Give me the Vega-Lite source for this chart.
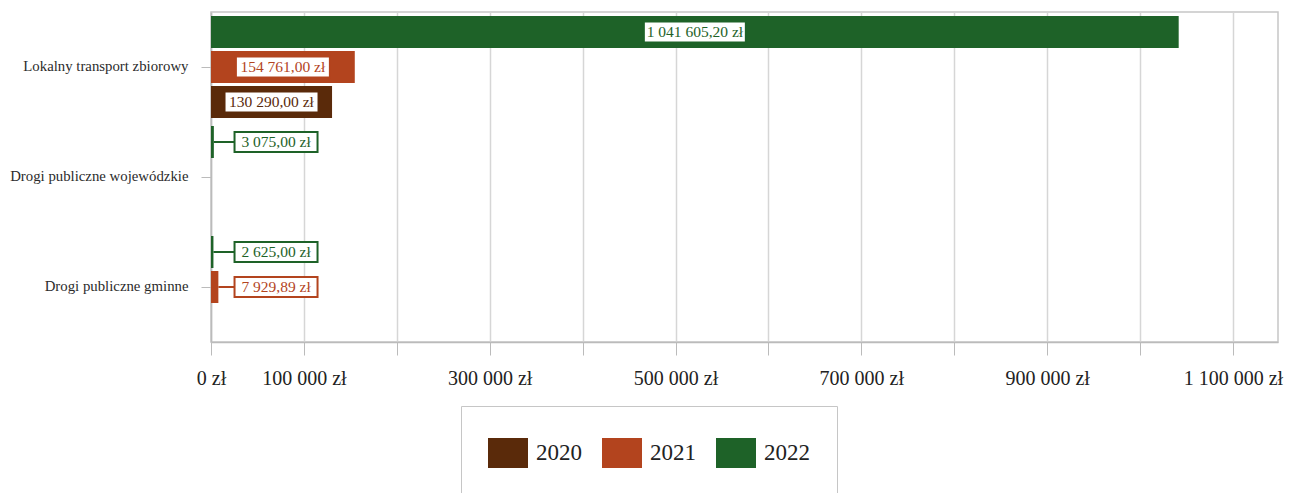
{
  "$schema": "https://vega.github.io/schema/vega-lite/v6.json",
  "autosize": {"type": "none"},
  "width": 1067,
  "height": 330,
  "padding": {"left": 211, "top": 12, "right": 20, "bottom": 151},
  "background": "white",
  "config": {
    "locale": {"number": {"decimal": ",", "thousands": " ", "grouping": [3], "currency": ["", " zł"]}},
    "view": {"stroke": "#c6c6c6", "strokeWidth": 1.5},
    "font": "Liberation Serif"
  },
  "data": {
    "values": [
      {"kategoria": "Lokalny transport zbiorowy", "rok": "2020", "kwota": 130290.00},
      {"kategoria": "Lokalny transport zbiorowy", "rok": "2021", "kwota": 154761.00},
      {"kategoria": "Lokalny transport zbiorowy", "rok": "2022", "kwota": 1041605.20},
      {"kategoria": "Drogi publiczne wojewódzkie", "rok": "2022", "kwota": 3075.00},
      {"kategoria": "Drogi publiczne gminne", "rok": "2021", "kwota": 7929.89},
      {"kategoria": "Drogi publiczne gminne", "rok": "2022", "kwota": 2625.00}
    ]
  },
  "transform": [
    {"calculate": "datum.kwota > 50000 ? datum.kwota / 2 : 70000", "as": "pozycja"},
    {"calculate": "datum.kwota >= 1000000 ? 'L' : (datum.kwota >= 100000 ? 'M' : 'S')", "as": "ramka"}
  ],
  "encoding": {
    "y": {
      "field": "kategoria",
      "type": "nominal",
      "title": null,
      "scale": {
        "domain": ["Lokalny transport zbiorowy", "Drogi publiczne wojewódzkie", "Drogi publiczne gminne"],
        "paddingInner": 0,
        "paddingOuter": 0
      },
      "axis": {
        "labelFontSize": 14.8,
        "labelColor": "#2b2b2b",
        "labelPadding": 13,
        "tickSize": 10,
        "tickColor": "#bbbbbb",
        "domainColor": "#bbbbbb",
        "domainWidth": 1.5,
        "labelLimit": 300
      }
    },
    "yOffset": {
      "field": "rok",
      "type": "nominal",
      "scale": {"domain": ["2022", "2021", "2020"], "paddingInner": 0.0857, "paddingOuter": 0.114}
    }
  },
  "layer": [
    {
      "mark": {"type": "bar"},
      "encoding": {
        "x": {
          "field": "kwota",
          "type": "quantitative",
          "title": null,
          "scale": {"domain": [0, 1148500], "nice": false},
          "axis": {
            "values": [0, 100000, 200000, 300000, 400000, 500000, 600000, 700000, 800000, 900000, 1000000, 1100000],
            "format": "$,d",
            "labelExpr": "datum.value == 0 || datum.value % 200000 == 100000 ? datum.label : ''",
            "labelFontSize": 20,
            "labelColor": "#222222",
            "labelFlush": false,
            "labelOverlap": false,
            "tickSize": 13,
            "labelPadding": 13,
            "tickColor": "#bbbbbb",
            "domainColor": "#bbbbbb",
            "domainWidth": 1.5,
            "gridColor": "#d6d6d6",
            "gridWidth": 1.5
          }
        },
        "color": {
          "field": "rok",
          "type": "nominal",
          "scale": {"domain": ["2020", "2021", "2022"], "range": ["#5a2a0a", "#b3441e", "#1e6228"]},
          "legend": {
            "orient": "none",
            "legendX": 250,
            "legendY": 394,
            "direction": "horizontal",
            "columns": 3,
            "title": null,
            "symbolType": "M-1,-0.75H1V0.75H-1Z",
            "symbolSize": 1600,
            "symbolStrokeWidth": 0,
            "symbolOpacity": 1,
            "labelFontSize": 23,
            "labelFont": "Liberation Serif",
            "labelColor": "#222222",
            "labelOffset": 8,
            "columnPadding": 20,
            "padding": 27,
            "strokeColor": "#c6c6c6"
          }
        }
      }
    },
    {
      "transform": [{"filter": "datum.kwota < 50000"}],
      "mark": {"type": "rule", "strokeWidth": 2},
      "encoding": {
        "x": {"field": "kwota", "type": "quantitative"},
        "x2": {"field": "pozycja"},
        "color": {"field": "rok", "type": "nominal", "legend": null}
      }
    },
    {
      "mark": {"type": "point", "filled": true, "fill": "white", "size": 10000, "strokeWidth": 2, "opacity": 1},
      "encoding": {
        "x": {"field": "pozycja", "type": "quantitative"},
        "shape": {
          "field": "ramka",
          "type": "nominal",
          "scale": {
            "domain": ["L", "M", "S"],
            "range": ["M-1.02,-0.21H1.02V0.21H-1.02Z", "M-0.94,-0.21H0.94V0.21H-0.94Z", "M-0.83,-0.2H0.83V0.2H-0.83Z"]
          },
          "legend": null
        },
        "stroke": {
          "field": "rok",
          "type": "nominal",
          "scale": {"domain": ["2020", "2021", "2022"], "range": ["#5a2a0a", "#b3441e", "#1e6228"]},
          "legend": null
        }
      }
    },
    {
      "mark": {"type": "text", "fontSize": 15.5, "font": "Liberation Serif"},
      "encoding": {
        "x": {"field": "pozycja", "type": "quantitative"},
        "text": {"field": "kwota", "type": "quantitative", "format": "$,.2f"},
        "color": {"field": "rok", "type": "nominal", "legend": null}
      }
    }
  ]
}
